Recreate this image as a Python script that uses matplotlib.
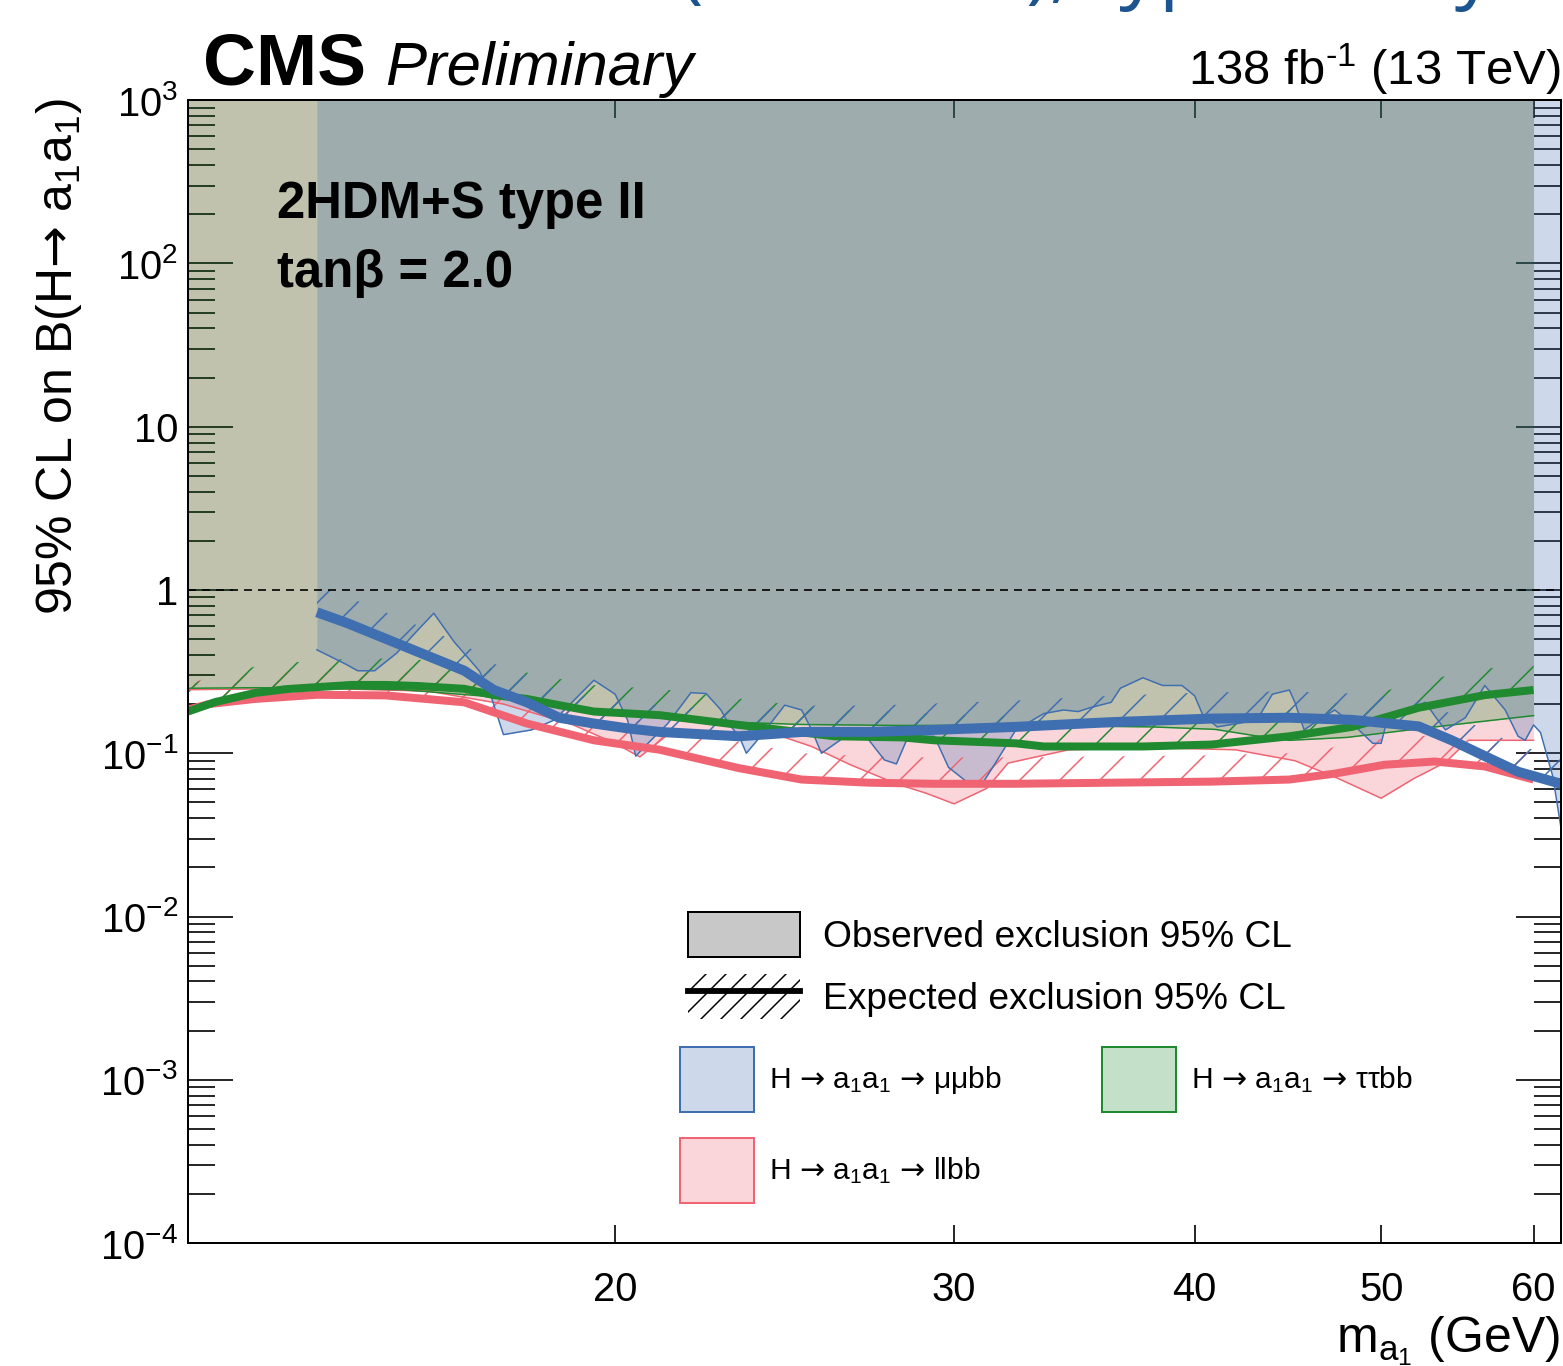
import numpy as np
import matplotlib
matplotlib.use('Agg')
import matplotlib.pyplot as plt
from matplotlib.patches import Patch
from matplotlib.lines import Line2D
from matplotlib.colors import to_rgba
from matplotlib.ticker import FixedLocator, FixedFormatter, LogLocator, NullFormatter, NullLocator

plt.rcParams['font.family'] = ['Liberation Sans', 'DejaVu Sans']
plt.rcParams['mathtext.fontset'] = 'custom'
plt.rcParams['mathtext.rm'] = 'Liberation Sans'
plt.rcParams['mathtext.it'] = 'Liberation Sans:italic'
plt.rcParams['mathtext.bf'] = 'Liberation Sans:bold'
plt.rcParams['mathtext.sf'] = 'DejaVu Sans'
plt.rcParams['mathtext.default'] = 'regular'
plt.rcParams['hatch.linewidth'] = 0.9

BLUE = '#3f6fb0'
GREEN = '#1f8a2f'
RED = '#ef6372'
FILL_ALPHA = 0.26
TOP = 1e3
ARROW = r'$\mathsf{→}$'

# H -> a1a1 -> mumubb
mumubb_obs_mass = [14.0, 14.5, 14.7, 15.0, 15.4, 15.8, 16.1, 16.5, 17.0, 17.2, 17.5,
                   18.1, 18.6, 19.5, 20.0, 20.3, 20.5, 20.8, 21.3, 21.9, 22.3,
                   22.7, 22.9, 23.2, 23.4, 23.8, 24.5, 25.0, 25.3, 25.6, 26.3,
                   27.0, 27.6, 28.0, 28.4, 29.3, 29.8, 30.5, 31.0, 31.5, 32.3,
                   33.4, 34.2, 34.8, 35.3, 36.2, 36.6, 37.6, 38.5, 39.4, 40.0,
                   40.4, 41.1, 42.1, 43.1, 43.9, 44.8, 45.1, 45.6, 46.4, 47.3,
                   48.3, 49.5, 50.0, 50.3, 51.9, 52.7, 53.5, 54.0, 55.3, 56.6,
                   58.0, 58.9, 59.4, 60.0, 60.5, 61.4, 62.0]
mumubb_obs = [0.43, 0.35, 0.32, 0.32, 0.41, 0.57, 0.72, 0.48, 0.32, 0.244, 0.13,
              0.139, 0.16, 0.28, 0.23, 0.16, 0.096, 0.115, 0.152, 0.235, 0.232,
              0.184, 0.152, 0.127, 0.10, 0.127, 0.197, 0.184, 0.139, 0.10, 0.125,
              0.127, 0.091, 0.086, 0.127, 0.127, 0.082, 0.066, 0.064, 0.086, 0.139,
              0.175, 0.184, 0.18, 0.19, 0.205, 0.25, 0.29, 0.26, 0.26, 0.225,
              0.171, 0.145, 0.152, 0.16, 0.23, 0.244, 0.205, 0.139, 0.16, 0.184,
              0.152, 0.115, 0.115, 0.152, 0.19, 0.205, 0.16, 0.139, 0.165, 0.26,
              0.184, 0.127, 0.12, 0.149, 0.134, 0.072, 0.035]
mumubb_exp_mass = [14.0, 14.5, 16.7, 17.3, 18.0, 18.7, 19.5, 20.3, 21.1, 23.2, 25.0, 27.1,
                   29.3, 32.3, 36.2, 40.8, 44.8, 48.3, 52.3, 54.4, 56.6, 58.9, 62.0]
mumubb_exp = [0.73, 0.63, 0.32, 0.244, 0.205, 0.165, 0.152, 0.142, 0.135, 0.127, 0.135, 0.135,
              0.139, 0.145, 0.155, 0.163, 0.165, 0.160, 0.146, 0.120, 0.096, 0.077, 0.065]

# H -> a1a1 -> tautaubb
tautaubb_obs_mass = [12.0, 13.0, 14.0, 15.5, 17.0, 18.5, 20.0, 21.5, 23.0, 25.0, 28.0,
                     31.0, 34.0, 38.0, 41.0, 43.0, 44.8, 48.0, 52.0, 56.0, 60.0]
tautaubb_obs = [0.25, 0.252, 0.25, 0.245, 0.225, 0.20, 0.18, 0.165, 0.155, 0.15, 0.148,
                0.148, 0.147, 0.145, 0.14, 0.128, 0.12, 0.125, 0.14, 0.155, 0.17]
tautaubb_exp_mass = [12.0, 12.4, 13.0, 13.5, 14.0, 14.6, 15.2, 15.8, 16.7, 17.3, 18.0, 18.7,
                     19.5, 21.1, 23.2, 26.0, 28.2, 29.3, 32.3, 33.4, 37.6, 40.8, 44.8, 48.3,
                     52.3, 56.6, 60.0]
tautaubb_exp = [0.18, 0.206, 0.234, 0.247, 0.254, 0.262, 0.262, 0.258, 0.248, 0.227, 0.215, 0.197,
                0.18, 0.171, 0.149, 0.127, 0.125, 0.12, 0.115, 0.11, 0.11, 0.113, 0.127, 0.145,
                0.19, 0.227, 0.244]

# H -> a1a1 -> llbb (combination)
llbb_obs_mass = [12.0, 14.0, 16.0, 17.5, 19.0, 20.0, 20.6, 21.3, 23.0, 24.5, 25.3, 26.5,
                 28.0, 29.0, 30.0, 31.2, 32.0, 34.4, 38.0, 42.0, 45.1, 47.5, 50.0, 52.0,
                 54.0, 55.5, 60.0]
llbb_obs = [0.245, 0.25, 0.24, 0.20, 0.15, 0.115, 0.095, 0.13, 0.135, 0.125, 0.11, 0.085,
            0.065, 0.057, 0.049, 0.061, 0.087, 0.105, 0.108, 0.105, 0.09, 0.07, 0.053, 0.07,
            0.088, 0.12, 0.12]
llbb_exp_mass = [12.0, 12.3, 13.0, 14.0, 15.2, 16.7, 18.0, 19.5, 21.1, 23.2, 25.0,
                 27.1, 29.3, 32.3, 36.2, 40.8, 44.8, 47.3, 50.2, 53.3, 56.6, 60.0]
llbb_exp = [0.185, 0.20, 0.215, 0.228, 0.226, 0.205, 0.152, 0.12, 0.105, 0.081, 0.069,
            0.066, 0.065, 0.065, 0.066, 0.067, 0.069, 0.075, 0.085, 0.089, 0.083, 0.069]

y_ticks = [1e-4, 1e-3, 1e-2, 1e-1, 1, 10, 1e2, 1e3]
y_tick_labels = ['$10^{-4}$', '$10^{-3}$', '$10^{-2}$', '$10^{-1}$', '1', '10', '$10^{2}$', '$10^{3}$']
x_ticks = [20, 30, 40, 50, 60]
x_tick_labels = ['20', '30', '40', '50', '60']

fig = plt.figure(figsize=(1563 / 120, 1366 / 120), dpi=120)
ax = fig.add_axes([0.1203, 0.0900, 0.8784, 0.8367])
ax.set_xscale('log')
ax.set_yscale('log')
ax.set_xlim(12, 62)
ax.set_ylim(1e-4, 1e3)


def draw_channel(mass_obs, obs, mass_exp, exp, color, z, exp_lw):
    # observed exclusion: everything above the observed limit
    ax.fill_between(mass_obs, obs, TOP, color=color, alpha=FILL_ALPHA, lw=0, zorder=z)
    ax.plot(mass_obs, obs, color=color, lw=0.9, zorder=10 + z)
    # expected limit, hatched on the excluded side
    exp = np.array(exp)
    ax.fill_between(mass_exp, exp, exp * 1.45, facecolor='none', edgecolor=color,
                    hatch='/', lw=0, zorder=5 + z)
    ax.plot(mass_exp, exp, color=color, lw=exp_lw, solid_capstyle='butt', zorder=20 + z)


draw_channel(llbb_obs_mass, llbb_obs, llbb_exp_mass, llbb_exp, RED, 1, 4.8)
draw_channel(tautaubb_obs_mass, tautaubb_obs, tautaubb_exp_mass, tautaubb_exp, GREEN, 2, 4.8)
draw_channel(mumubb_obs_mass, mumubb_obs, mumubb_exp_mass, mumubb_exp, BLUE, 3, 6.0)

ax.axhline(1, color='black', lw=1.0, ls=(0, (4.8, 3.6)), zorder=30)

ax.yaxis.set_major_locator(FixedLocator(y_ticks))
ax.yaxis.set_major_formatter(FixedFormatter(y_tick_labels))
ax.yaxis.set_minor_locator(LogLocator(base=10, subs=np.arange(2, 10), numticks=20))
ax.yaxis.set_minor_formatter(NullFormatter())
ax.xaxis.set_major_locator(FixedLocator(x_ticks))
ax.xaxis.set_major_formatter(FixedFormatter(x_tick_labels))
ax.xaxis.set_minor_locator(NullLocator())
ax.tick_params(which='both', direction='in', top=True, right=True, width=1.0, colors='black')
ax.tick_params(axis='y', which='major', length=27, labelsize=24, pad=6)
ax.tick_params(axis='y', which='minor', length=16)
ax.tick_params(axis='x', which='major', length=11, labelsize=24, pad=17)
for spine in ax.spines.values():
    spine.set_linewidth(1.2)
    spine.set_zorder(40)

# slide title running off the top edge
fig.text(680 / 1563, 1.005, '(2HDM+S), type II only', fontsize=47.8, family='Open Sans',
         color='#1b5490', va='baseline', ha='left')

fig.text(0.1299, 0.9378, 'CMS', fontsize=44, fontweight='bold', va='baseline', ha='left')
fig.text(0.2463, 0.9378, 'Preliminary', fontsize=37, style='italic', va='baseline', ha='left')
fig.text(0.9987, 0.9378, r'138 fb$^{\text{-}1}$ (13 TeV)', fontsize=29.5, va='baseline', ha='right')
fig.text(0.1772, 0.8404, '2HDM+S type II', fontsize=30.5, fontweight='bold', va='baseline')
fig.text(0.1772, 0.7899, 'tanβ = 2.0', fontsize=30.5, fontweight='bold', va='baseline')

fig.text(0.038, 1 - 98 / 1366, '95% CL on B(H' + ARROW + ' $a_1a_1$)', rotation=90,
         ha='center', va='top', fontsize=30)
fig.text(0.998, 0.0102, r'$m_{a_1}$ (GeV)', ha='right', va='baseline', fontsize=30)

summary_handles = [
    Patch(facecolor='#c8c8c8', edgecolor='black', lw=1.2),
    (Patch(facecolor='none', edgecolor='black', hatch='//', lw=0),
     Line2D([], [], color='black', lw=3.5)),
]
summary_labels = ['Observed exclusion 95% CL', 'Expected exclusion 95% CL']
leg1 = ax.legend(summary_handles, summary_labels, loc='upper left',
                 bbox_to_anchor=(688 / 1563, 1 - 912 / 1366), bbox_transform=fig.transFigure,
                 frameon=False, fontsize=22.3, handlelength=3.01, handleheight=1.484,
                 handletextpad=0.63, labelspacing=0.46, borderpad=0, borderaxespad=0)
ax.add_artist(leg1)

channel_handles = [
    Patch(facecolor=to_rgba(BLUE, FILL_ALPHA), edgecolor=BLUE, lw=1.2),
    Patch(facecolor=to_rgba(RED, FILL_ALPHA), edgecolor=RED, lw=1.2),
    Patch(facecolor=to_rgba(GREEN, FILL_ALPHA), edgecolor=GREEN, lw=1.2),
]
channel_labels = ['H ' + ARROW + r' $a_1a_1$ ' + ARROW + r' $\mu\mu$bb',
                  'H ' + ARROW + r' $a_1a_1$ ' + ARROW + ' llbb',
                  'H ' + ARROW + r' $a_1a_1$ ' + ARROW + r' $\tau\tau$bb']
leg2 = ax.legend(channel_handles, channel_labels, loc='upper left', ncol=2,
                 bbox_to_anchor=(680 / 1563, 1 - 1047 / 1366), bbox_transform=fig.transFigure,
                 frameon=False, fontsize=18, handlelength=2.47, handleheight=2.957,
                 handletextpad=0.5, columnspacing=3.33, labelspacing=0.87,
                 borderpad=0, borderaxespad=0)
leg1.set_zorder(50)
leg2.set_zorder(50)

fig.savefig('out.png', dpi=120)
